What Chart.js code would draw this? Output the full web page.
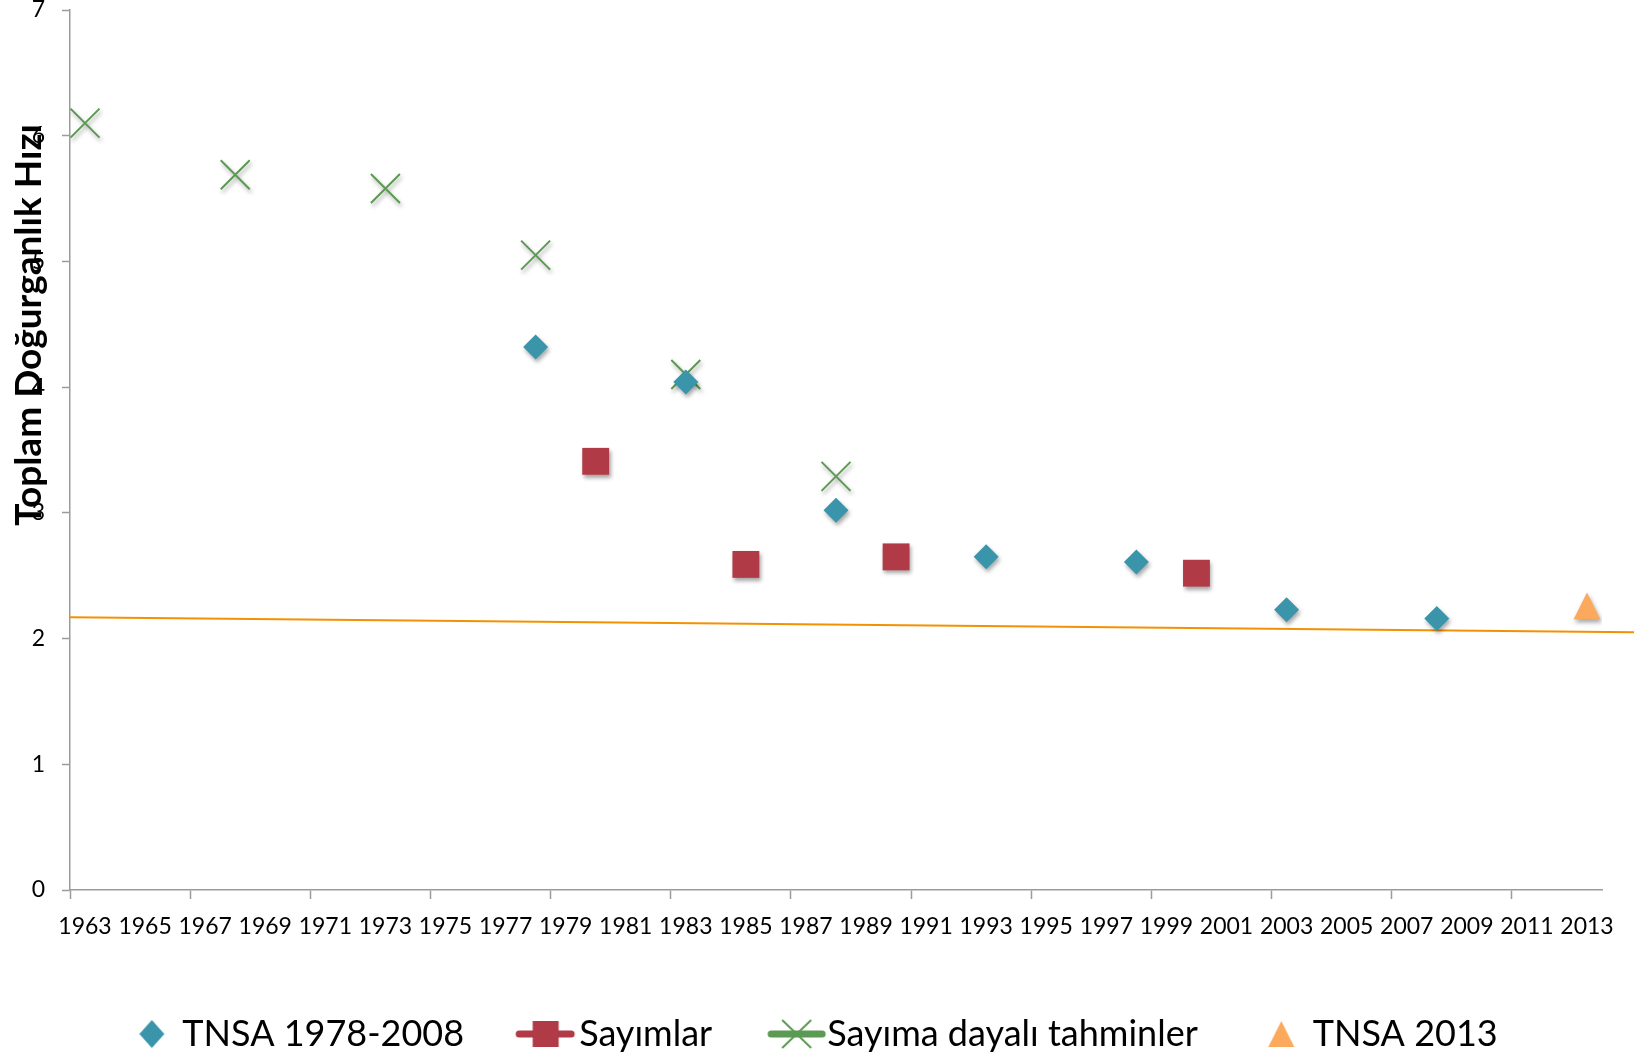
<!DOCTYPE html>
<html>
<head>
<meta charset="utf-8">
<script src="https://cdn.jsdelivr.net/npm/chart.js@4.4.1/dist/chart.umd.min.js"></script>
<style>
  html, body { margin: 0; padding: 0; background: #fff; }
  #wrap { width: 1634px; height: 1056px; }
</style>
</head>
<body>
<div id="wrap"><canvas id="tfr-chart" width="1634" height="1056"></canvas></div>
<script>
// Toplam doğurganlık hızı, Türkiye 1963-2013
const tnsaYears = [1978, 1983, 1988, 1993, 1998, 2003, 2008];
const tnsaTfr = [4.32, 4.04, 3.02, 2.65, 2.61, 2.23, 2.16];

const censusYears = [1980, 1985, 1990, 2000];
const censusTfr = [3.41, 2.59, 2.65, 2.52];

const estimateYears = [1963, 1968, 1973, 1978, 1983, 1988];
const estimateTfr = [6.10, 5.69, 5.58, 5.05, 4.10, 3.29];

const tnsa2013Years = [2013];
const tnsa2013Tfr = [2.26];

const trendYears = [1962.5, 2014.6];
const trendTfr = [2.17, 2.05];

const yearLabels = [1963, 1965, 1967, 1969, 1971, 1973, 1975, 1977, 1979, 1981, 1983, 1985, 1987,
  1989, 1991, 1993, 1995, 1997, 1999, 2001, 2003, 2005, 2007, 2009, 2011, 2013];

const seriesNames = ['TNSA 1978-2008', 'Sayımlar', 'Sayıma dayalı tahminler', 'TNSA 2013'];
const yTitleText = 'Toplam Doğurganlık Hızı';

const COLORS = {
  tnsa: '#3a95aa',
  census: '#b03a45',
  estimate: '#5b9a52',
  tnsa2013: '#fba95c',
  trend: '#f39200',
  axis: '#9b9b9b',
};

const toPoints = (xs, ys) => xs.map((x, i) => ({ x, y: ys[i] }));

// small canvases used as point styles (legend icons + triangle marker)
function makeIcon(w, h, draw) {
  const c = document.createElement('canvas');
  c.width = w; c.height = h;
  const g = c.getContext('2d');
  g.translate(w / 2, h / 2);
  draw(g);
  return c;
}

function triangle(g, cx, w, h, color) {
  g.fillStyle = color;
  g.beginPath();
  g.moveTo(cx, -h / 2);
  g.lineTo(cx + w / 2, h / 2);
  g.lineTo(cx - w / 2, h / 2);
  g.closePath();
  g.fill();
}

const triMarker = makeIcon(30, 30, g => triangle(g, 0, 27, 27, COLORS.tnsa2013));

const legendIcons = [
  makeIcon(100, 40, g => {
    g.fillStyle = COLORS.tnsa;
    g.beginPath();
    g.moveTo(17.5, -14); g.lineTo(30, 0); g.lineTo(17.5, 14); g.lineTo(5, 0);
    g.closePath(); g.fill();
  }),
  makeIcon(100, 40, g => {
    g.strokeStyle = COLORS.census; g.lineWidth = 7; g.lineCap = 'round';
    g.beginPath(); g.moveTo(-12, 0); g.lineTo(40, 0); g.stroke();
    g.fillStyle = COLORS.census;
    g.fillRect(1.5, -13, 26, 26);
  }),
  makeIcon(100, 40, g => {
    g.strokeStyle = COLORS.estimate; g.lineWidth = 7; g.lineCap = 'round';
    g.beginPath(); g.moveTo(-8, 0); g.lineTo(43, 0); g.stroke();
    g.lineWidth = 2; g.lineCap = 'butt';
    g.beginPath();
    g.moveTo(3, -14); g.lineTo(32, 14);
    g.moveTo(32, -14); g.lineTo(3, 14);
    g.stroke();
  }),
  makeIcon(100, 40, g => triangle(g, 16.5, 26, 26, COLORS.tnsa2013)),
];

const markerShadow = {
  id: 'markerShadow',
  beforeDatasetDraw(chart, args) {
    if (!chart.data.datasets[args.index].shadow) return;
    const ctx = chart.ctx;
    ctx.save();
    ctx.shadowColor = 'rgba(0,0,0,0.35)';
    ctx.shadowBlur = 4;
    ctx.shadowOffsetX = 1.5;
    ctx.shadowOffsetY = 3;
  },
  afterDatasetDraw(chart, args) {
    if (chart.data.datasets[args.index].shadow) chart.ctx.restore();
  },
};

// Excel puts the axis title over the tick labels
const yTitle = {
  id: 'yTitle',
  afterDraw(chart) {
    const { ctx, chartArea } = chart;
    ctx.save();
    ctx.translate(chartArea.left - 29, chartArea.top + 315);
    ctx.rotate(-Math.PI / 2);
    ctx.font = 'bold 37px Lato';
    ctx.fillStyle = '#000';
    ctx.textAlign = 'center';
    ctx.textBaseline = 'alphabetic';
    ctx.fillText(yTitleText, 0, 0);
    ctx.restore();
  },
};

function initChart() {
  const canvas = document.getElementById('tfr-chart');
  const lastLabel = yearLabels[yearLabels.length - 1];
  const xMin = yearLabels[0] - 0.5;
  const xMax = lastLabel + 0.5;

  new Chart(canvas, {
    type: 'scatter',
    data: {
      datasets: [
        {
          label: seriesNames[0], data: toPoints(tnsaYears, tnsaTfr), order: 1, shadow: true,
          pointStyle: 'rectRot', pointRadius: 12.5, backgroundColor: COLORS.tnsa, borderWidth: 0,
        },
        {
          label: seriesNames[1], data: toPoints(censusYears, censusTfr), order: 2, shadow: true,
          pointStyle: 'rect', pointRadius: 19, backgroundColor: COLORS.census, borderWidth: 0,
        },
        {
          label: seriesNames[2], data: toPoints(estimateYears, estimateTfr), order: 3, shadow: true,
          pointStyle: 'crossRot', pointRadius: 20.5, borderColor: COLORS.estimate, borderWidth: 2,
          backgroundColor: COLORS.estimate,
        },
        {
          label: seriesNames[3], data: toPoints(tnsa2013Years, tnsa2013Tfr), order: 1, shadow: true,
          pointStyle: triMarker, pointRadius: 14, backgroundColor: COLORS.tnsa2013,
        },
        {
          label: 'trend', data: toPoints(trendYears, trendTfr), order: 10,
          showLine: true, pointRadius: 0, borderColor: COLORS.trend, borderWidth: 2, clip: false,
        },
      ],
    },
    options: {
      responsive: false,
      animation: false,
      layout: { autoPadding: false, padding: { left: 0, right: 32, top: 0, bottom: -6 } },
      plugins: {
        tooltip: { enabled: false },
        legend: {
          position: 'bottom',
          align: 'center',
          labels: {
            usePointStyle: true,
            pointStyleWidth: 60,
            padding: 37,
            color: '#000',
            font: { family: 'Lato', size: 36 },
            generateLabels: () => seriesNames.map((name, i) => ({
              text: name, pointStyle: legendIcons[i], fillStyle: 'transparent',
              strokeStyle: 'transparent', lineWidth: 0, hidden: false, datasetIndex: i, fontColor: '#000',
            })),
          },
        },
      },
      scales: {
        x: {
          type: 'linear',
          min: xMin,
          max: xMax,
          afterBuildTicks: scale => {
            const marks = [];
            for (let v = xMin; v < xMax; v += 4) marks.push(v);
            scale.ticks = [...marks, ...yearLabels].sort((a, b) => a - b).map(value => ({ value }));
          },
          afterFit: scale => { scale.height = 89; },
          grid: {
            drawOnChartArea: false,
            tickLength: 9,
            tickWidth: 1.5,
            tickColor: ctx => (Number.isInteger(ctx.tick && ctx.tick.value) ? 'rgba(0,0,0,0)' : COLORS.axis),
          },
          border: { color: COLORS.axis, width: 1.5 },
          ticks: {
            autoSkip: false, maxRotation: 0, minRotation: 0, padding: 14, color: '#000',
            font: { family: 'Lato', size: 23 },
            callback: v => (Number.isInteger(v) ? String(v) : ''),
          },
        },
        y: {
          min: 0,
          max: 7,
          afterFit: scale => {
            scale.width = 70;
            scale.paddingTop = 10;
            scale.paddingBottom = 0;
          },
          grid: { drawOnChartArea: false, tickLength: 8, tickWidth: 1.5, tickColor: COLORS.axis },
          border: { color: COLORS.axis, width: 1.5 },
          ticks: { stepSize: 1, padding: 17, color: '#000', font: { family: 'Lato', size: 23 } },
        },
      },
    },
    plugins: [markerShadow, yTitle],
  });
}

document.addEventListener('DOMContentLoaded', initChart);
</script>
</body>
</html>
